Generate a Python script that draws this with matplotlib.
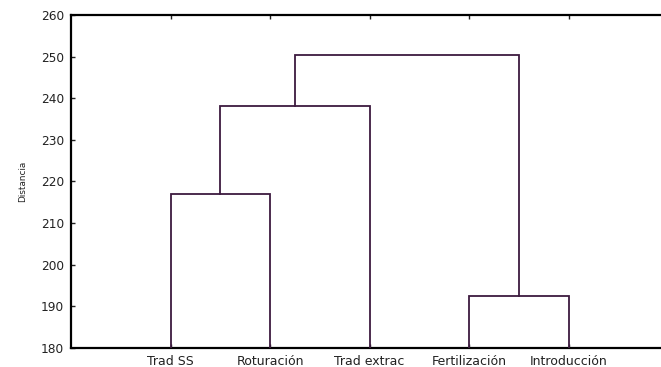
#!/usr/bin/env python3

import matplotlib
matplotlib.use('Agg')
import matplotlib.pyplot as plt

plt.rcParams['font.family'] = ['DejaVu Sans']

# leaf labels, in plotting order
leaves = ['Trad SS', 'Roturación', 'Trad extrac', 'Fertilización', 'Introducción']

# merges: (left node, right node, height); nodes 0-4 are leaves, 5+ are earlier merges
merges = [
    (0, 1, 217.0),
    (3, 4, 192.5),
    (5, 2, 238.2),
    (6, 7, 250.5),
]

line_color = '#3d1a3f'

fig = plt.figure(figsize=(6.61, 3.67), dpi=100)
W, H = 661, 367
ax = fig.add_axes([71 / W, (H - 348) / H, 600 / W, 333 / H])

# x and y of each node
xs = [i + 1 for i in range(len(leaves))]
ys = [180.0] * len(leaves)

for a, b, h in merges:
    ax.plot([xs[a], xs[a], xs[b], xs[b]], [ys[a], h, h, ys[b]],
            color=line_color, lw=1.3, solid_joinstyle='miter', zorder=3)
    xs.append((xs[a] + xs[b]) / 2)
    ys.append(h)

ax.set_xlim(0, 6.03)
ax.set_ylim(180, 260)
ax.set_yticks(range(180, 261, 10))
ax.set_xticks(range(1, len(leaves) + 1))
ax.set_xticklabels(leaves)

ax.tick_params(axis='both', direction='in', length=3, width=1, labelsize=9,
               colors='#222222', top=True, right=False)
ax.tick_params(axis='x', pad=5)
ax.tick_params(axis='y', pad=5, labelsize=8.7)

for s in ['left', 'top', 'bottom']:
    ax.spines[s].set_linewidth(1.6)
ax.spines['right'].set_visible(False)

ax.set_ylabel('Distancia', fontsize=6.4, labelpad=10, color='#222222')

fig.savefig('out.png', dpi=100)
